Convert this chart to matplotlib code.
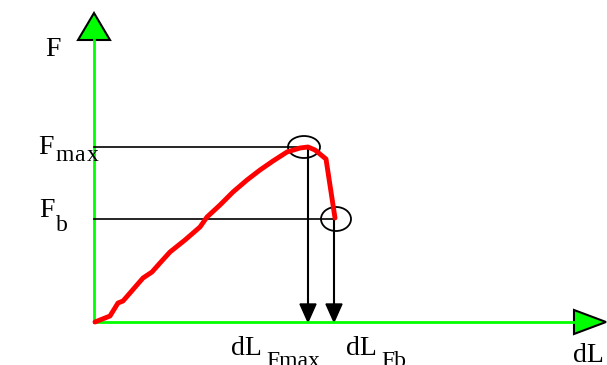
import matplotlib.pyplot as plt
from matplotlib.patches import Polygon, Ellipse

plt.rcParams['font.family'] = ['Liberation Serif', 'DejaVu Serif']

# diagram drawn in pixel-like units (y grows downwards)
curve_x = [95, 110, 118, 123, 130, 143, 152, 160, 170, 185, 200, 207, 220, 233, 247, 260, 273, 287, 300, 308, 315, 326, 335]
curve_y = [322, 316, 303, 301, 293, 278, 272, 263, 252, 240, 227, 217, 205, 192, 180, 170, 161, 152, 148, 147, 150, 159, 218]

origin = (94, 322)
f_max = 147
f_b = 219
dl_fmax = 308
dl_fb = 334

fig = plt.figure(figsize=(6.07, 3.65), dpi=100)
ax = fig.add_axes([0, 0, 1, 1])
ax.set_xlim(0, 607)
ax.set_ylim(365, 0)
ax.axis('off')

green = '#00ff00'
# axes
ax.plot([origin[0], origin[0]], [origin[1], 40], color=green, lw=2)
ax.plot([origin[0], 574], [origin[1], origin[1]], color=green, lw=2)
ax.add_patch(Polygon([[94, 13], [78, 40], [110, 40]], closed=True, facecolor=green, edgecolor='black', lw=1.5))
ax.add_patch(Polygon([[606, 322], [574, 310], [574, 334]], closed=True, facecolor=green, edgecolor='black', lw=1.5))

# guide lines
ax.plot([origin[0], dl_fmax], [f_max, f_max], color='black', lw=1.2)
ax.plot([origin[0], dl_fb], [f_b, f_b], color='black', lw=1.2)
for xx, y0 in [(dl_fmax, f_max), (dl_fb, f_b)]:
    ax.plot([xx, xx], [y0, 305], color='black', lw=1.5)
    ax.add_patch(Polygon([[xx, 322], [xx - 8, 304], [xx + 8, 304]], closed=True, facecolor='black', edgecolor='black'))

# curve
ax.plot(curve_x, curve_y, color='red', lw=3.5, solid_joinstyle='round', solid_capstyle='round')

ax.add_patch(Ellipse((304, 147), 32, 22, fill=False, edgecolor='black', lw=1.3))
ax.add_patch(Ellipse((336, 219), 30, 24, fill=False, edgecolor='black', lw=1.3))

fs = 20
sub = 17
ax.text(45, 56, 'F', fontsize=fs, ha='left', va='baseline')
ax.text(38, 154, 'F', fontsize=fs, ha='left', va='baseline')
for ch, cx in [('m', 55), ('a', 74), ('x', 87)]:
    ax.text(cx, 161, ch, fontsize=sub, ha='left', va='baseline')
ax.text(39, 217, 'F', fontsize=fs, ha='left', va='baseline')
ax.text(56, 231, 'b', fontsize=sub, ha='left', va='baseline')
ax.text(231, 355, 'dL', fontsize=fs, ha='left', va='baseline')
ax.text(266, 367, 'Fmax', fontsize=sub, ha='left', va='baseline')
ax.text(346, 355, 'dL', fontsize=fs, ha='left', va='baseline')
ax.text(381, 367, 'Fb', fontsize=sub, ha='left', va='baseline')
ax.text(573, 362, 'dL', fontsize=fs, ha='left', va='baseline')

fig.savefig('out.png', dpi=100)
